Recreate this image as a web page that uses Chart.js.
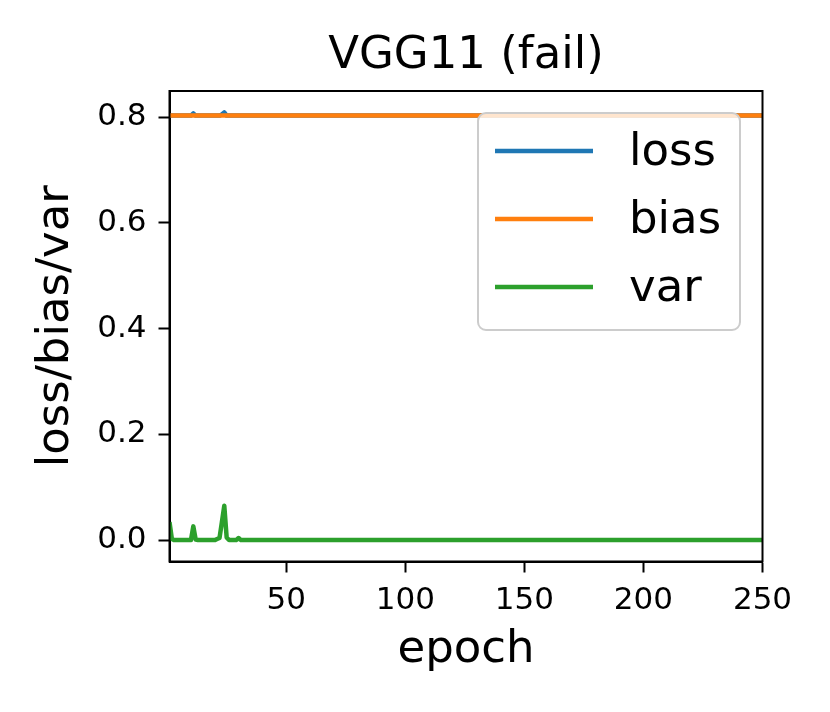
<!DOCTYPE html>
<html>
<head>
<meta charset="utf-8">
<script src="https://cdn.jsdelivr.net/npm/chart.js@4.4.0/dist/chart.umd.min.js"></script>
<style>
  html, body { margin: 0; padding: 0; background: #fff; }
  #holder { width: 830px; height: 712px; }
</style>
</head>
<body>
<div id="holder"><canvas id="chart" width="830" height="712"></canvas></div>
<script>
// values, epochs where something changes
const epochs     = [1, 2, 3, 9, 10, 11, 12, 13, 20, 21, 22, 23, 24, 25, 26, 29, 30, 31, 32, 250];
const lossValues = [0.803, 0.803, 0.803, 0.803, 0.803, 0.807, 0.803, 0.803, 0.803, 0.803, 0.803, 0.805, 0.809, 0.803, 0.803, 0.803, 0.803, 0.803, 0.803, 0.803];
const biasValues = [0.803, 0.803, 0.803, 0.803, 0.803, 0.803, 0.803, 0.803, 0.803, 0.803, 0.803, 0.803, 0.803, 0.803, 0.803, 0.803, 0.803, 0.803, 0.803, 0.803];
const varValues  = [0.034, 0.002, 0.0, 0.0, 0.0, 0.026, 0.001, 0.0, 0.0, 0.002, 0.004, 0.034, 0.065, 0.005, 0.0, 0.0, 0.004, 0.0, 0.0, 0.0];

const seriesNames = ['loss', 'bias', 'var'];
const seriesColors = ['#1f77b4', '#ff7f0e', '#2ca02c'];
const xTicks = [50, 100, 150, 200, 250];
const yTicks = [0.0, 0.2, 0.4, 0.6, 0.8];

const FONT = 'DejaVu Sans';

function points(vals) {
    return epochs.map((e, i) => ({ x: e, y: vals[i] }));
}

// top and right spines
const frame = {
    id: 'frame',
    afterDraw(chart) {
        const { ctx, chartArea: a } = chart;
        ctx.save();
        ctx.strokeStyle = '#000';
        ctx.lineWidth = 2;
        ctx.strokeRect(a.left, a.top, a.right - a.left, a.bottom - a.top);
        ctx.restore();
    }
};

// matplotlib style legend in the upper right corner
const boxLegend = {
    id: 'boxLegend',
    afterDraw(chart) {
        const { ctx, chartArea: a } = chart;
        const w = 262, h = 217;
        const x = a.right - 22.5 - w, y = a.top + 22;
        ctx.save();
        ctx.beginPath();
        ctx.roundRect(x, y, w, h, 8);
        ctx.fillStyle = 'rgba(255,255,255,0.8)';
        ctx.fill();
        ctx.strokeStyle = '#cccccc';
        ctx.lineWidth = 2;
        ctx.stroke();
        ctx.font = '45px "' + FONT + '"';
        ctx.textBaseline = 'middle';
        ctx.fillStyle = '#000';
        seriesNames.forEach((name, i) => {
            const cy = y + 38 + i * 68;
            ctx.beginPath();
            ctx.moveTo(x + 17, cy);
            ctx.lineTo(x + 115, cy);
            ctx.strokeStyle = seriesColors[i];
            ctx.lineWidth = 4.5;
            ctx.stroke();
            ctx.fillText(name, x + 151, cy + 2);
        });
        ctx.restore();
    }
};

const ctx = document.getElementById('chart').getContext('2d');
new Chart(ctx, {
    type: 'line',
    data: {
        datasets: [
            { label: 'loss', data: points(lossValues), order: 3 },
            { label: 'bias', data: points(biasValues), order: 2 },
            { label: 'var', data: points(varValues), order: 1 }
        ].map((d, i) => Object.assign(d, {
            borderColor: seriesColors[i],
            backgroundColor: seriesColors[i],
            borderWidth: 4.5,
            borderJoinStyle: 'round',
            borderCapStyle: 'butt',
            pointRadius: 0,
            tension: 0,
            fill: false
        }))
    },
    options: {
        responsive: false,
        devicePixelRatio: 1,
        animation: false,
        layout: { padding: { left: 0, right: 67.5, top: 0, bottom: 0 } },
        plugins: {
            legend: { display: false },
            tooltip: { enabled: false },
            title: {
                display: true,
                text: 'VGG11 (fail)',
                fullSize: false,
                color: '#000',
                font: { family: FONT, size: 45, weight: 'normal' },
                padding: { top: 29, bottom: 8 }
            }
        },
        scales: {
            x: {
                type: 'linear',
                min: 1,
                max: 250,
                afterFit: (s) => { s.height = 150.5; },
                afterBuildTicks: (s) => { s.ticks = xTicks.map(v => ({ value: v })); },
                ticks: {
                    color: '#000',
                    font: { family: FONT, size: 31 },
                    padding: 10,
                    maxRotation: 0,
                    callback: (v) => String(v)
                },
                grid: { drawOnChartArea: false, tickLength: 11, tickWidth: 2, tickColor: '#000' },
                border: { color: '#000', width: 2 },
                title: {
                    display: true,
                    text: 'epoch',
                    color: '#000',
                    font: { family: FONT, size: 45 },
                    padding: { top: 0, bottom: 35 }
                }
            },
            y: {
                type: 'linear',
                min: -0.0405,
                max: 0.8495,
                afterFit: (s) => { s.width = 169.5; },
                afterBuildTicks: (s) => { s.ticks = yTicks.map(v => ({ value: v })); },
                ticks: {
                    color: '#000',
                    font: { family: FONT, size: 31 },
                    padding: 12,
                    callback: (v) => v.toFixed(1)
                },
                grid: { drawOnChartArea: false, tickLength: 11, tickWidth: 2, tickColor: '#000' },
                border: { color: '#000', width: 2 },
                title: {
                    display: true,
                    text: 'loss/bias/var',
                    color: '#000',
                    font: { family: FONT, size: 45 },
                    padding: { top: 29, bottom: 0 }
                }
            }
        }
    },
    plugins: [frame, boxLegend]
});
</script>
</body>
</html>
